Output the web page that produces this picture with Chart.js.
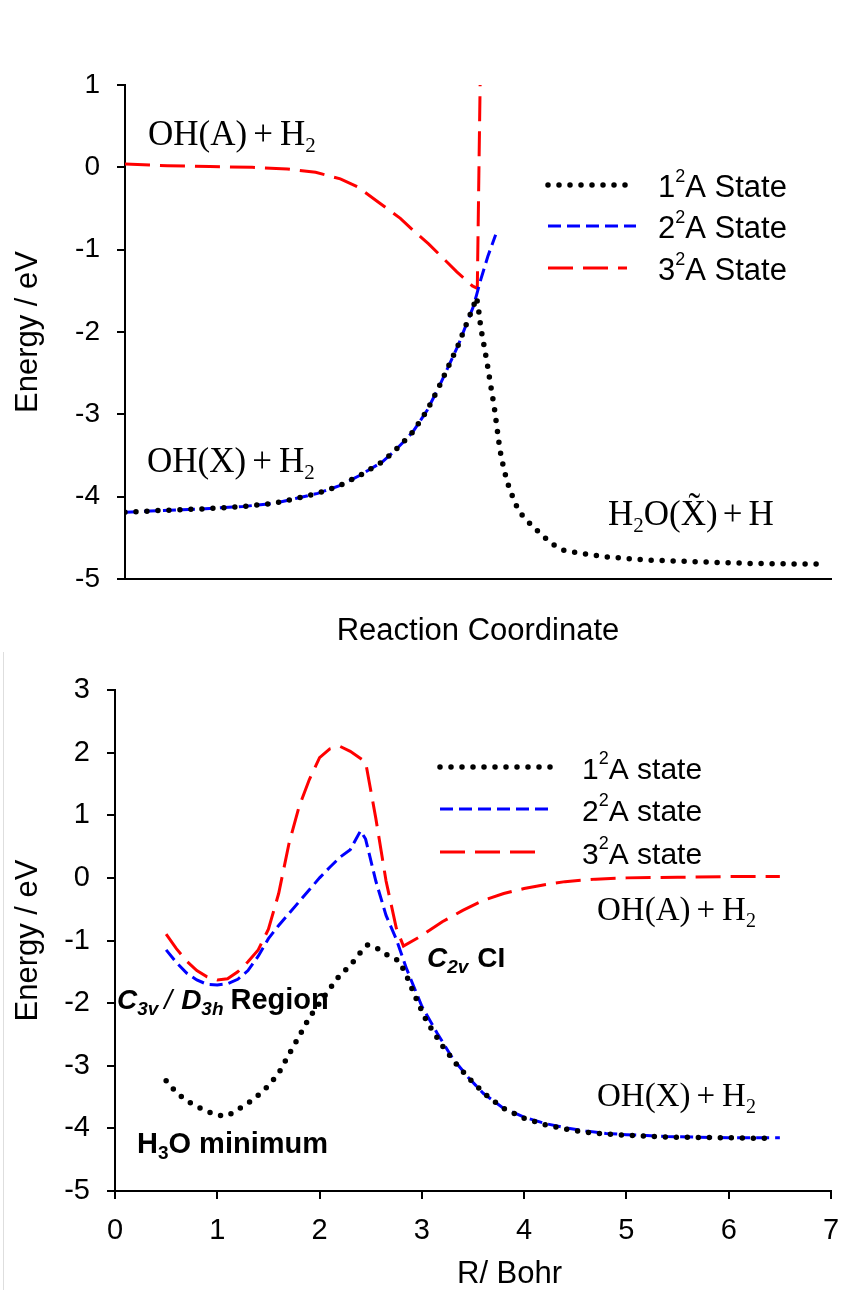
<!DOCTYPE html>
<html>
<head>
<meta charset="utf-8">
<script src="https://cdn.jsdelivr.net/npm/chart.js@4.4.1/dist/chart.umd.min.js"></script>
<style>
  html, body { margin: 0; padding: 0; background: #fff; }
  #wrap { position: relative; width: 857px; height: 1290px; overflow: hidden; }
  canvas { position: absolute; left: 0; }
  #upper { top: 0; }
  #lower { top: 650px; }
  .edge { position: absolute; left: 3px; top: 652px; width: 1px; height: 638px; background: #dedede; }
</style>
</head>
<body>
<div id="wrap">
  <canvas id="upper" width="857" height="650"></canvas>
  <canvas id="lower" width="857" height="640"></canvas>
  <div class="edge"></div>
</div>
<script>
// Upper panel: energies along an arbitrary reaction coordinate (0-100)
const upperCoord1 = [0, 4.5, 10.6, 16.7, 21.2, 24.3, 27.3, 30.3, 33.3, 36.4, 38, 39.4, 40.8, 42.8, 44.4, 45.8, 47.2, 48.2, 49.3, 49.8,
  50.1, 50.4, 50.8, 51.3, 51.8, 52.3, 52.7, 53.1, 53.7, 54.3, 55.2, 56, 57.5, 59.1, 60.6, 62.1, 64, 68, 74, 81, 88, 98.7];
const upperState1 = [-4.19, -4.17, -4.15, -4.12, -4.08, -4.02, -3.96, -3.87, -3.74, -3.58, -3.46, -3.34, -3.21, -2.95, -2.68, -2.42, -2.16, -1.94, -1.70, -1.58,
  -1.74, -1.95, -2.14, -2.38, -2.65, -2.91, -3.17, -3.43, -3.68, -3.86, -4.07, -4.20, -4.34, -4.47, -4.58, -4.65, -4.68, -4.73, -4.77, -4.79, -4.81, -4.82];
const upperCoord2 = [0, 4.5, 10.6, 16.7, 21.2, 24.3, 27.3, 30.3, 33.3, 36.4, 38, 39.4, 40.8, 42.8, 44.4, 45.8, 47.2, 48.2, 49.3, 49.8, 50.4, 51.4, 52.5];
const upperState2 = [-4.19, -4.17, -4.15, -4.12, -4.08, -4.02, -3.96, -3.87, -3.74, -3.58, -3.46, -3.34, -3.21, -2.95, -2.68, -2.42, -2.16, -1.94, -1.70, -1.55, -1.36, -1.08, -0.82];
const upperCoord3 = [0, 6, 12, 18, 23, 27, 30.5, 33, 36, 39, 41, 43, 45.6, 47, 48.2, 49.2, 49.9, 50.3];
const upperState3 = [0.04, 0.02, 0.01, 0.0, -0.02, -0.06, -0.14, -0.24, -0.43, -0.62, -0.78, -0.93, -1.15, -1.27, -1.36, -1.44, -1.47, 1.0];
const upperEnergyTicks = [1, 0, -1, -2, -3, -4, -5];

// Lower panel: energies against R / Bohr
const lowerR1 = [0.5, 0.6, 0.7, 0.8, 0.9, 1.0, 1.1, 1.2, 1.3, 1.4, 1.5, 1.6, 1.7, 1.8, 1.9, 2.0, 2.1, 2.2, 2.3, 2.4,
  2.47, 2.55, 2.65, 2.78, 2.86, 2.95, 3.05, 3.2, 3.35, 3.5, 3.65, 3.8, 4.0, 4.2, 4.4, 4.6, 4.8, 5.0, 5.4, 6.0, 6.4];
const lowerState1 = [-3.24, -3.43, -3.56, -3.65, -3.73, -3.79, -3.80, -3.70, -3.60, -3.47, -3.32, -3.12, -2.82, -2.53, -2.23, -2.00, -1.77, -1.55, -1.40, -1.19,
  -1.07, -1.11, -1.22, -1.33, -1.60, -1.95, -2.30, -2.68, -3.00, -3.27, -3.50, -3.68, -3.84, -3.94, -4.01, -4.06, -4.09, -4.11, -4.14, -4.15, -4.16];
const lowerR2 = [0.5, 0.6, 0.7, 0.8, 0.9, 1.0, 1.1, 1.2, 1.3, 1.4, 1.5, 1.6, 1.7, 1.8, 1.9, 2.0, 2.1, 2.2, 2.3, 2.35, 2.4, 2.45,
  2.55, 2.65, 2.75, 2.85, 3.0, 3.15, 3.3, 3.45, 3.6, 3.8, 4.0, 4.2, 4.4, 4.6, 4.8, 5.0, 5.4, 6.0, 6.5];
const lowerState2 = [-1.15, -1.35, -1.52, -1.63, -1.70, -1.71, -1.69, -1.62, -1.48, -1.25, -0.97, -0.76, -0.57, -0.38, -0.19, 0.0, 0.17, 0.33, 0.45, 0.60, 0.75, 0.62,
  -0.05, -0.60, -0.98, -1.45, -2.05, -2.48, -2.88, -3.18, -3.44, -3.68, -3.82, -3.92, -3.99, -4.04, -4.08, -4.10, -4.13, -4.15, -4.15];
const lowerR3 = [0.5, 0.6, 0.7, 0.8, 0.9, 1.0, 1.1, 1.2, 1.3, 1.4, 1.5, 1.6, 1.7, 1.8, 1.9, 2.0, 2.1, 2.2, 2.3, 2.45,
  2.55, 2.65, 2.75, 2.82, 3.0, 3.2, 3.4, 3.6, 3.8, 4.0, 4.2, 4.4, 4.7, 5.0, 5.5, 6.0, 6.5];
const lowerState3 = [-0.90, -1.13, -1.33, -1.48, -1.58, -1.63, -1.61, -1.50, -1.34, -1.15, -0.82, -0.25, 0.54, 1.14, 1.57, 1.92, 2.06, 2.10, 2.02, 1.85,
  0.95, -0.05, -0.80, -1.09, -0.92, -0.70, -0.52, -0.36, -0.25, -0.17, -0.11, -0.06, -0.02, 0.0, 0.01, 0.02, 0.02];
const lowerEnergyTicks = [3, 2, 1, 0, -1, -2, -3, -4, -5];
const lowerRTicks = [0, 1, 2, 3, 4, 5, 6, 7];

const SANS = '"Liberation Sans", Arial, sans-serif';
const SERIF = '"Liberation Serif", "Times New Roman", serif';
Chart.defaults.font.family = SANS;
Chart.defaults.color = '#000';

const pts = (xs, ys) => xs.map((x, i) => ({ x: x, y: ys[i] }));

// line looks shared by both panels
const dotted = { borderColor: '#000', borderWidth: 5.5, borderDash: [0, 11], borderCapStyle: 'round' };
const shortDash = { borderColor: '#0000ff', borderWidth: 3, borderDash: [13, 6] };
const longDash = { borderColor: '#ff0000', borderWidth: 3, borderDash: [25, 10] };

function series(label, data, look) {
  return Object.assign({ label: label, data: data, pointRadius: 0, tension: 0, fill: false }, look);
}

// text with sub/superscripts: each part may carry its own font and offsets
function drawRich(ctx, x, y, parts) {
  parts.forEach(p => {
    ctx.font = p.f;
    x += p.dx || 0;
    ctx.fillText(p.t, x, y + (p.dy || 0));
    x += ctx.measureText(p.t).width;
  });
}

function notesPlugin(notes, legend) {
  return {
    id: 'notes',
    afterDraw(chart) {
      const ctx = chart.ctx;
      ctx.save();
      ctx.fillStyle = '#000';
      ctx.textAlign = 'left';
      ctx.textBaseline = 'alphabetic';
      notes.forEach(n => drawRich(ctx, n.x, n.y, n.parts));

      chart.data.datasets.forEach((ds, i) => {
        const y = legend.y[i];
        ctx.save();
        ctx.strokeStyle = ds.borderColor;
        ctx.lineWidth = ds.borderWidth;
        ctx.lineCap = ds.borderCapStyle || 'butt';
        ctx.setLineDash(ds.borderDash || []);
        ctx.beginPath();
        ctx.moveTo(legend.x0, y);
        ctx.lineTo(legend.x1[i], y);
        ctx.stroke();
        ctx.restore();
        const [pre, post] = ds.label.split('\u00b2');
        drawRich(ctx, legend.tx, y + 12, [
          { t: pre, f: legend.font },
          { t: '2', f: legend.supFont, dy: -15 },
          { t: post, f: legend.font }
        ]);
      });
      ctx.restore();
    }
  };
}

function serifPair(size, first, sub, last) {
  const f = size + 'px ' + SERIF;
  const s = Math.round(size * 0.6) + 'px ' + SERIF;
  return [{ t: first, f: f }, { t: '+', f: f, dx: 6 }, { t: sub, f: f, dx: 7 }, { t: last, f: s, dy: 7 }];
}

const yTitle = { display: true, text: 'Energy / eV', font: { size: 31 }, color: '#000', padding: { top: 10, bottom: 0 } };
const tickGrid = { drawOnChartArea: false, drawTicks: true, tickLength: 8, color: '#000', lineWidth: 2 };
const axisLine = { display: true, color: '#000', width: 2 };

new Chart(document.getElementById('upper'), {
  type: 'line',
  data: {
    datasets: [
      series('1\u00b2A State', pts(upperCoord1, upperState1), dotted),
      series('2\u00b2A State', pts(upperCoord2, upperState2), shortDash),
      series('3\u00b2A State', pts(upperCoord3, upperState3), longDash)
    ]
  },
  options: {
    responsive: false,
    animation: false,
    events: [],
    layout: { padding: { top: 85, right: 26, left: 0, bottom: 0 } },
    plugins: { legend: { display: false }, tooltip: { enabled: false } },
    scales: {
      x: {
        type: 'linear', min: 0, max: 100,
        ticks: { display: false },
        grid: { display: false },
        border: axisLine,
        title: { display: true, text: 'Reaction Coordinate', font: { size: 31 }, color: '#000', padding: { top: 0, bottom: 0 } },
        afterFit: s => { s.height = 71; }
      },
      y: {
        min: -5, max: 1,
        afterBuildTicks: s => { s.ticks = upperEnergyTicks.map(v => ({ value: v })); },
        ticks: { font: { size: 28 }, color: '#000', padding: 17, autoSkip: false },
        grid: tickGrid,
        border: axisLine,
        title: yTitle,
        afterFit: s => { s.width = 125; }
      }
    }
  },
  plugins: [notesPlugin([
    { x: 148, y: 145, parts: serifPair(35, 'OH(A)', 'H', '2') },
    { x: 147, y: 472, parts: serifPair(35, 'OH(X)', 'H', '2') },
    { x: 608, y: 525, parts: [
      { t: 'H', f: '35px ' + SERIF }, { t: '2', f: '21px ' + SERIF, dy: 7 },
      { t: 'O(X\u0303)', f: '35px ' + SERIF }, { t: '+', f: '35px ' + SERIF, dx: 5 }, { t: 'H', f: '35px ' + SERIF, dx: 6 }
    ] }
  ], {
    x0: 548, x1: [628, 636, 627], y: [185, 226, 268], tx: 658,
    font: '31px ' + SANS, supFont: '18px ' + SANS
  })]
});

new Chart(document.getElementById('lower'), {
  type: 'line',
  data: {
    datasets: [
      series('1\u00b2A state', pts(lowerR1, lowerState1), dotted),
      series('2\u00b2A state', pts(lowerR2, lowerState2), shortDash),
      series('3\u00b2A state', pts(lowerR3, lowerState3), longDash)
    ]
  },
  options: {
    responsive: false,
    animation: false,
    events: [],
    layout: { padding: { top: 40, right: 26, left: 0, bottom: 0 } },
    plugins: { legend: { display: false }, tooltip: { enabled: false } },
    scales: {
      x: {
        type: 'linear', min: 0, max: 7,
        afterBuildTicks: s => { s.ticks = lowerRTicks.map(v => ({ value: v })); },
        ticks: { font: { size: 29 }, color: '#000', padding: 15, autoSkip: false, maxRotation: 0 },
        grid: tickGrid,
        border: axisLine,
        afterFit: s => { s.height = 99; }
      },
      y: {
        min: -5, max: 3,
        afterBuildTicks: s => { s.ticks = lowerEnergyTicks.map(v => ({ value: v })); },
        ticks: { font: { size: 29 }, color: '#000', padding: 17, autoSkip: false },
        grid: tickGrid,
        border: axisLine,
        title: yTitle,
        afterFit: s => { s.width = 115; }
      }
    }
  },
  plugins: [notesPlugin([
    { x: 457, y: 633, parts: [{ t: 'R/ Bohr', f: '31px ' + SANS }] },
    { x: 597, y: 270, parts: serifPair(33, 'OH(A)', 'H', '2') },
    { x: 597, y: 456, parts: serifPair(33, 'OH(X)', 'H', '2') },
    { x: 427, y: 317, parts: [
      { t: 'C', f: 'italic bold 28px ' + SANS }, { t: '2v', f: 'italic bold 19px ' + SANS, dy: 6 },
      { t: 'CI', f: 'bold 28px ' + SANS, dx: 9 }
    ] },
    { x: 117, y: 359, parts: [
      { t: 'C', f: 'italic bold 28px ' + SANS }, { t: '3v', f: 'italic bold 19px ' + SANS, dy: 6 },
      { t: '/', f: 'italic 28px ' + SANS, dx: 6 },
      { t: 'D', f: 'italic bold 28px ' + SANS, dx: 9 }, { t: '3h', f: 'italic bold 19px ' + SANS, dy: 6 },
      { t: 'Region', f: 'bold 29px ' + SANS, dx: 7 }
    ] },
    { x: 137, y: 503, parts: [
      { t: 'H', f: 'bold 29px ' + SANS }, { t: '3', f: 'bold 19px ' + SANS, dy: 6 },
      { t: 'O minimum', f: 'bold 29px ' + SANS }
    ] }
  ], {
    x0: 440, x1: [553, 553, 542], y: [117, 159, 202], tx: 582,
    font: '30px ' + SANS, supFont: '18px ' + SANS
  })]
});
</script>
</body>
</html>
